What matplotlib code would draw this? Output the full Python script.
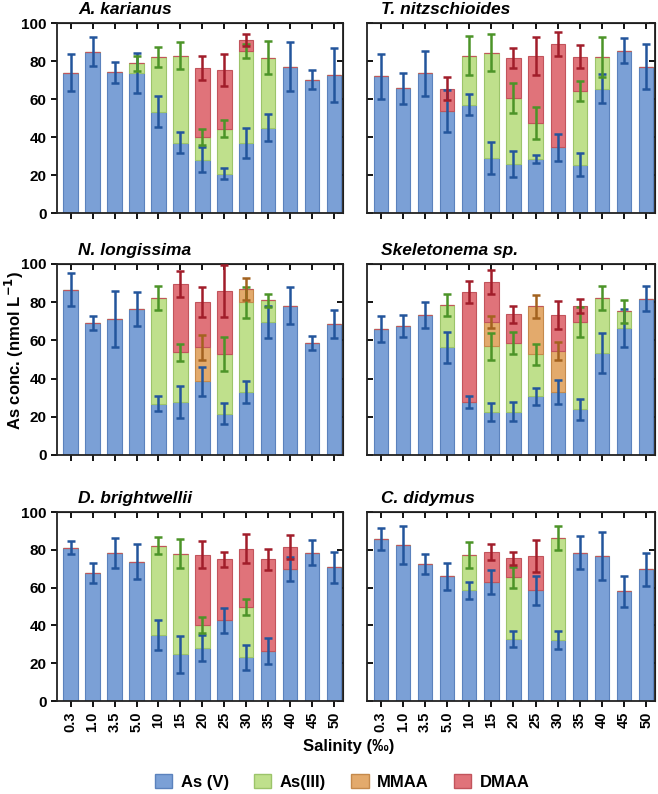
import matplotlib
matplotlib.use("Agg")
import matplotlib.pyplot as plt
import numpy as np
from matplotlib.patches import Patch

plt.rcParams["font.family"] = ["Liberation Sans", "DejaVu Sans"]
plt.rcParams["font.weight"] = "bold"

salinity = ["0.3", "1.0", "3.5", "5.0", "10", "15", "20", "25", "30", "35", "40", "45", "50"]
species = ["A. karianus", "T. nitzschioides", "N. longissima",
           "Skeletonema sp.", "D. brightwellii", "C. didymus"]
components = ["As (V)", "As(III)", "MMAA", "DMAA"]

# component concentrations (nmol/L) and SD, per species
ak_asv = [73.9, 84.9, 74.1, 73.6, 53.3, 37.0, 28.0, 20.8, 37.0, 44.9, 77.1, 70.2, 72.5]
ak_asv_err = [9.6, 7.7, 5.5, 10.6, 8.2, 5.5, 6.5, 2.9, 8.0, 7.2, 13.0, 5.1, 14.2]
ak_asiii = [0, 0, 0, 5.3, 28.6, 45.9, 12.0, 23.6, 48.2, 36.8, 0, 0, 0]
ak_asiii_err = [0, 0, 0, 4.0, 5.3, 6.9, 4.4, 4.4, 3.7, 8.6, 0, 0, 0]
ak_mmaa = [0] * 13
ak_mmaa_err = [0] * 13
ak_dmaa = [0, 0, 0, 0, 0, 0, 36.4, 30.8, 5.8, 0, 0, 0, 0]
ak_dmaa_err = [0, 0, 0, 0, 0, 0, 6.2, 8.4, 3.0, 0, 0, 0, 0]

tn_asv = [71.9, 65.6, 73.6, 53.9, 57.1, 28.8, 25.8, 28.4, 34.6, 25.5, 65.4, 85.5, 77.1]
tn_asv_err = [11.8, 8.1, 11.8, 11.0, 5.4, 8.5, 6.7, 1.9, 7.2, 6.1, 7.6, 6.5, 12.0]
tn_asiii = [0, 0, 0, 0, 25.8, 55.5, 34.8, 18.9, 0, 38.7, 16.6, 0, 0]
tn_asiii_err = [0, 0, 0, 0, 10.1, 9.8, 7.7, 8.5, 0, 5.4, 10.5, 0, 0]
tn_mmaa = [0] * 13
tn_mmaa_err = [0] * 13
tn_dmaa = [0, 0, 0, 11.5, 0, 0, 21.1, 35.4, 54.4, 18.0, 0, 0, 0]
tn_dmaa_err = [0, 0, 0, 6.0, 0, 0, 5.2, 10.0, 6.2, 6.1, 0, 0, 0]

nl_asv = [86.5, 69.2, 71.2, 76.4, 26.9, 27.6, 38.5, 21.7, 32.9, 69.6, 78.1, 58.6, 68.7]
nl_asv_err = [8.7, 3.8, 14.8, 8.7, 3.9, 8.3, 7.5, 5.6, 5.8, 8.5, 9.7, 3.7, 7.4]
nl_asiii = [0, 0, 0, 0, 55.3, 26.1, 0, 31.1, 47.0, 11.3, 0, 0, 0]
nl_asiii_err = [0, 0, 0, 0, 6.5, 4.6, 0, 8.7, 8.2, 3.5, 0, 0, 0]
nl_mmaa = [0, 0, 0, 0, 0, 0, 17.8, 0, 7.0, 0, 0, 0, 0]
nl_mmaa_err = [0, 0, 0, 0, 0, 0, 6.4, 0, 5.8, 0, 0, 0, 0]
nl_dmaa = [0, 0, 0, 0, 0, 35.8, 23.8, 32.9, 0, 0, 0, 0, 0]
nl_dmaa_err = [0, 0, 0, 0, 0, 6.8, 8.0, 13.7, 0, 0, 0, 0, 0]

sk_asv = [65.9, 67.7, 73.3, 56.5, 27.6, 22.6, 22.6, 30.8, 32.9, 24.0, 53.3, 66.4, 81.8]
sk_asv_err = [6.7, 5.8, 6.6, 8.1, 3.2, 4.8, 5.0, 4.5, 6.4, 5.5, 10.3, 10.1, 6.6]
sk_asiii = [0, 0, 0, 22.0, 0, 34.2, 36.0, 21.8, 0, 45.6, 28.9, 8.8, 0]
sk_asiii_err = [0, 0, 0, 5.6, 0, 7.2, 5.7, 5.7, 0, 7.6, 6.4, 6.0, 0]
sk_mmaa = [0, 0, 0, 0, 0, 12.8, 0, 25.2, 21.6, 0, 0, 0, 0]
sk_mmaa_err = [0, 0, 0, 0, 0, 3.1, 0, 6.0, 4.8, 0, 0, 0, 0]
sk_dmaa = [0, 0, 0, 0, 57.7, 20.8, 15.0, 0, 18.8, 8.5, 0, 0, 0]
sk_dmaa_err = [0, 0, 0, 0, 5.8, 6.2, 4.5, 0, 7.5, 3.7, 0, 0, 0]

db_asv = [81.2, 67.8, 78.4, 73.8, 34.9, 24.8, 28.3, 42.8, 23.2, 26.4, 69.9, 78.4, 70.8]
db_asv_err = [3.4, 5.2, 8.0, 9.3, 7.9, 9.8, 6.9, 6.6, 6.6, 7.0, 6.5, 6.6, 8.3]
db_asiii = [0, 0, 0, 0, 47.2, 53.1, 12.1, 0, 26.5, 0, 0, 0, 0]
db_asiii_err = [0, 0, 0, 0, 4.5, 7.6, 4.2, 0, 4.1, 0, 0, 0, 0]
db_mmaa = [0] * 13
db_mmaa_err = [0] * 13
db_dmaa = [0, 0, 0, 0, 0, 0, 37.1, 32.1, 30.8, 48.5, 11.5, 0, 0]
db_dmaa_err = [0, 0, 0, 0, 0, 0, 7.0, 4.1, 7.7, 5.7, 6.4, 0, 0]

cd_asv = [85.7, 82.5, 72.6, 66.1, 58.5, 63.0, 32.8, 58.5, 32.5, 78.5, 76.8, 58.1, 69.6]
cd_asv_err = [5.7, 10.0, 5.3, 7.1, 4.6, 6.2, 4.2, 7.8, 4.8, 8.8, 12.8, 8.1, 8.8]
cd_asiii = [0, 0, 0, 0, 18.8, 0, 32.6, 0, 53.9, 0, 0, 0, 0]
cd_asiii_err = [0, 0, 0, 0, 6.8, 0, 5.5, 0, 6.4, 0, 0, 0, 0]
cd_mmaa = [0] * 13
cd_mmaa_err = [0] * 13
cd_dmaa = [0, 0, 0, 0, 0, 15.9, 10.2, 18.3, 0, 0, 0, 0, 0]
cd_dmaa_err = [0, 0, 0, 0, 0, 4.1, 3.5, 8.6, 0, 0, 0, 0, 0]

data = {
    "A. karianus": ([ak_asv, ak_asiii, ak_mmaa, ak_dmaa],
                    [ak_asv_err, ak_asiii_err, ak_mmaa_err, ak_dmaa_err]),
    "T. nitzschioides": ([tn_asv, tn_asiii, tn_mmaa, tn_dmaa],
                         [tn_asv_err, tn_asiii_err, tn_mmaa_err, tn_dmaa_err]),
    "N. longissima": ([nl_asv, nl_asiii, nl_mmaa, nl_dmaa],
                      [nl_asv_err, nl_asiii_err, nl_mmaa_err, nl_dmaa_err]),
    "Skeletonema sp.": ([sk_asv, sk_asiii, sk_mmaa, sk_dmaa],
                        [sk_asv_err, sk_asiii_err, sk_mmaa_err, sk_dmaa_err]),
    "D. brightwellii": ([db_asv, db_asiii, db_mmaa, db_dmaa],
                        [db_asv_err, db_asiii_err, db_mmaa_err, db_dmaa_err]),
    "C. didymus": ([cd_asv, cd_asiii, cd_mmaa, cd_dmaa],
                   [cd_asv_err, cd_asiii_err, cd_mmaa_err, cd_dmaa_err]),
}

fill_colors = ["#7ba0d6", "#bfe08c", "#e3aa6c", "#e0737a"]
edge_colors = ["#5b82bd", "#9cc46a", "#c58a4c", "#c2545c"]
err_colors = ["#23559c", "#4c9428", "#a3621f", "#a11d2a"]

# axes boxes in figure fraction
lefts = [0.0866, 0.5578]
widths = [0.4347, 0.4377]
bottoms = [0.7317, 0.4270, 0.1171]
heights = [0.2393, 0.2406, 0.2380]

fig = plt.figure(figsize=(6.58, 7.94), dpi=100)
x = np.arange(len(salinity))

for k, name in enumerate(species):
    row, col = divmod(k, 2)
    ax = fig.add_axes([lefts[col], bottoms[row], widths[col], heights[row]])
    vals, errs = data[name]
    base = np.zeros(len(x))
    tops = []
    for ci in range(4):
        v = np.array(vals[ci], dtype=float)
        ax.bar(x, v, width=0.65, bottom=base, color=fill_colors[ci],
               edgecolor=edge_colors[ci], linewidth=0.8, zorder=2)
        base = base + v
        tops.append((base.copy(), v, np.array(errs[ci], dtype=float)))
    for ci, (top, v, e) in enumerate(tops):
        m = v > 0
        ax.errorbar(x[m], top[m], yerr=e[m], fmt="none", ecolor=err_colors[ci],
                    elinewidth=1.8, capsize=3, capthick=1.8, zorder=3)

    ax.set_xlim(-0.62, 12.4)
    ax.set_ylim(0, 100)
    ax.set_yticks([0, 20, 40, 60, 80, 100])
    ax.set_xticks(x)
    for s in ax.spines.values():
        s.set_linewidth(1.3)
        s.set_color("#222222")
    ax.tick_params(axis="x", which="both", direction="out", length=4, width=1.3,
                   top=False)
    ax.tick_params(axis="y", direction="in" if col else "out", length=4, width=1.3,
                   right=False, labelsize=11)
    sec = ax.secondary_xaxis("top")
    sec.set_xticks(x)
    sec.tick_params(direction="in", length=4, width=1.3, labeltop=False)
    sec_y = ax.secondary_yaxis("right")
    sec_y.set_yticks([0, 20, 40, 60, 80, 100])
    sec_y.tick_params(direction="in", length=4, width=1.3, labelright=False)
    if row == 2:
        ax.set_xticklabels(salinity, rotation=90, fontsize=10.5)
    else:
        ax.set_xticklabels([])
    if col == 1:
        ax.set_yticklabels([])
    ax.text(0.075 if col == 0 else 0.05, 1.03, name, transform=ax.transAxes,
            fontsize=12.5, fontweight="bold", style="italic", ha="left", va="bottom")

fig.text(0.022, 1 - 350 / 794, "As conc. (nmol L$^{\\mathbf{-1}}$)", rotation=90,
         ha="center", va="center", fontsize=12, fontweight="bold")
fig.text(0.53, 1 - 747 / 794, "Salinity (‰)", ha="center", va="center",
         fontsize=12, fontweight="bold")

handles = [Patch(facecolor=fill_colors[i], edgecolor=edge_colors[i], label=components[i])
           for i in range(4)]
fig.legend(handles=handles, loc="center", bbox_to_anchor=(0.52, 1 - 782 / 794),
           ncol=4, frameon=False, fontsize=12, handlelength=1.05, handleheight=0.9,
           handletextpad=0.5, columnspacing=1.5)

fig.savefig("out.png", dpi=100)
